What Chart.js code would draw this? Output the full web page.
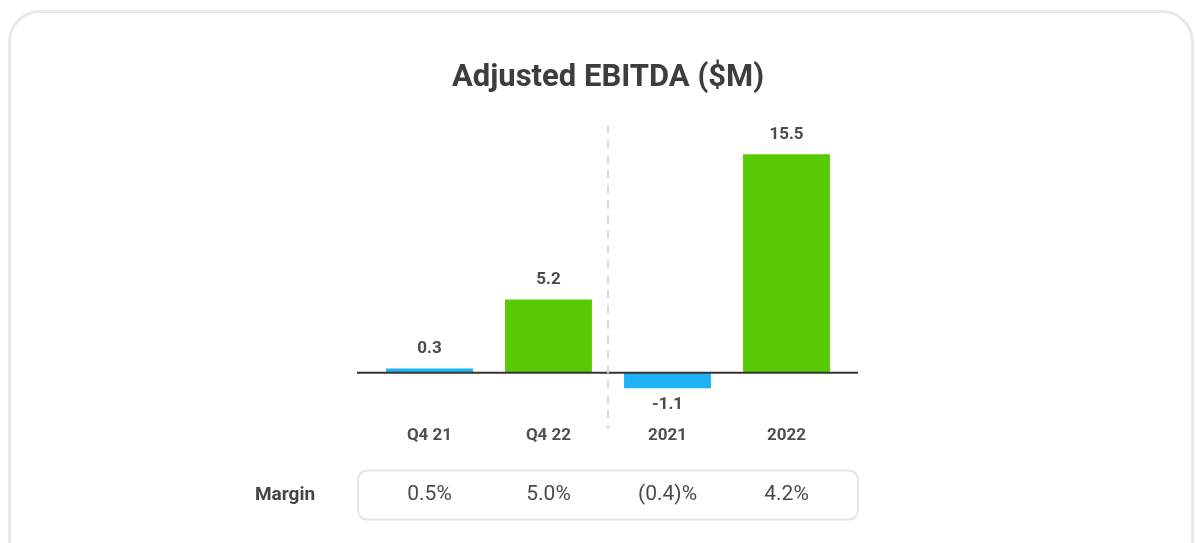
<!DOCTYPE html>
<html>
<head>
<meta charset="utf-8">
<script src="https://cdn.jsdelivr.net/npm/chart.js@4"></script>
<style>
  body { margin: 0; background: #fff; width: 1197px; height: 543px; overflow: hidden; position: relative; }
  #card { position: absolute; left: 8px; top: 10px; width: 1186px; height: 620px; border: 3px solid #e9e9e9; border-radius: 32px; box-sizing: border-box; }
  #ebitda-canvas { position: absolute; left: 0; top: 0; }
</style>
</head>
<body>
<div id="card"></div>
<canvas id="ebitda-canvas" width="1197" height="543"></canvas>
<script>
let periods = ["Q4 21", "Q4 22", "2021", "2022"];
let ebitda = [0.3, 5.2, -1.1, 15.5];
let margins = ["0.5%", "5.0%", "(0.4)%", "4.2%"];

let priorColor = "#1fb2f4";
let currentColor = "#58c905";
let textColor = "#4a4a4a";

let ctx = document.getElementById("ebitda-canvas").getContext("2d");

// value labels, zero line, divider and margin row
const extras = {
  id: "extras",
  afterDatasetsDraw(chart) {
    const { ctx, chartArea, scales: { x, y } } = chart;
    const zero = y.getPixelForValue(0);
    ctx.save();

    ctx.strokeStyle = "#333";
    ctx.lineWidth = 2;
    ctx.beginPath();
    ctx.moveTo(chartArea.left - 13, zero);
    ctx.lineTo(chartArea.right + 12, zero);
    ctx.stroke();

    const mid = (x.getPixelForValue(1) + x.getPixelForValue(2)) / 2;
    ctx.setLineDash([8, 7]);
    ctx.strokeStyle = "#dadada";
    ctx.lineWidth = 2;
    ctx.beginPath();
    ctx.moveTo(mid, chartArea.top - 22);
    ctx.lineTo(mid, chartArea.bottom + 29);
    ctx.stroke();
    ctx.setLineDash([]);

    ctx.fillStyle = textColor;
    ctx.font = "bold 17px Roboto";
    ctx.textAlign = "center";
    ctx.textBaseline = "middle";
    chart.getDatasetMeta(0).data.forEach(function (bar, i) {
      const v = ebitda[i];
      if (v >= 0) {
        ctx.fillText(v.toFixed(1), bar.x, bar.y - 20);
      } else {
        ctx.fillText(v.toFixed(1), bar.x, bar.y + 16);
      }
    });

    const boxTop = chartArea.bottom + 71;
    const boxH = 49;
    ctx.strokeStyle = "#e6e6e6";
    ctx.lineWidth = 2;
    ctx.beginPath();
    ctx.roundRect(chartArea.left - 12, boxTop, chartArea.width + 24, boxH, 9);
    ctx.stroke();

    ctx.font = "bold 19px Roboto";
    ctx.fillStyle = "#444";
    ctx.fillText("Margin", chartArea.left - 85, boxTop + boxH / 2);

    ctx.font = "21px Roboto";
    ctx.fillStyle = textColor;
    margins.forEach(function (m, i) {
      ctx.fillText(m, x.getPixelForValue(i), boxTop + boxH / 2);
    });
    ctx.restore();
  }
};

new Chart(ctx, {
  type: "bar",
  data: {
    labels: periods,
    datasets: [
      {
        data: ebitda,
        backgroundColor: periods.map(function (p, i) { return i % 2 === 0 ? priorColor : currentColor; }),
        barPercentage: 0.73,
        categoryPercentage: 1,
      },
    ],
  },
  options: {
    responsive: false,
    animation: false,
    layout: {
      padding: { left: 370, right: 351, top: 48, bottom: 71 },
    },
    scales: {
      x: {
        grid: { display: false, drawTicks: false },
        border: { display: false },
        ticks: { color: "#4f4f4f", font: { family: "Roboto", size: 17, weight: "bold" }, padding: 26 },
      },
      y: {
        display: false,
        min: -1.9,
        max: 16,
      },
    },
    plugins: {
      legend: { display: false },
      tooltip: { enabled: false },
      title: {
        display: true,
        text: "Adjusted EBITDA ($M)",
        color: "#3d3d3d",
        font: { family: "Roboto", size: 31, weight: "bold" },
        padding: { top: 12, bottom: 50 },
      },
    },
  },
  plugins: [extras],
});
</script>
</body>
</html>
